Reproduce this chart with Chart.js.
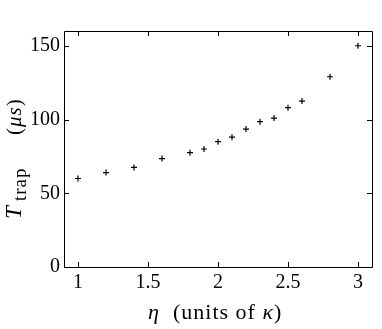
<!DOCTYPE html>
<html lang="en">
<head>
    <meta charset="UTF-8">
    <title>Trap time vs eta</title>
    <script src="https://cdn.jsdelivr.net/npm/chart.js"></script>
    <style>
        html, body { margin: 0; padding: 0; background: #fff; }
        #chart { display: block; }
    </style>
</head>
<body>
    <canvas id="chart" width="382" height="329"></canvas>

    <script>
        // Data
        var etaValues = [1.0, 1.2, 1.4, 1.6, 1.8, 1.9, 2.0, 2.1, 2.2, 2.3, 2.4, 2.5, 2.6, 2.8, 3.0];
        var trapTimes = [60, 64, 67.5, 73.5, 77.5, 80, 85, 88, 93.5, 98.5, 101, 108, 112.5, 129, 150];
        var xTicks = [1, 1.5, 2, 2.5, 3];
        var yTicks = [0, 50, 100, 150];

        var serif = '"Liberation Serif", "DejaVu Serif", serif';
        var points = etaValues.map((x, i) => ({x: x, y: trapTimes[i]}));

        // draws the box, inward ticks on all four sides and the axis titles
        var framePlugin = {
            id: 'frame',
            afterDraw(chart) {
                var ctx = chart.ctx;
                var a = chart.chartArea;
                var xs = chart.scales.x, ys = chart.scales.y;
                var len = 5;
                ctx.save();
                ctx.strokeStyle = '#000';
                ctx.lineWidth = 1;
                ctx.beginPath();
                ctx.rect(Math.round(a.left) + 0.5, Math.round(a.top) + 0.5,
                         Math.round(a.right - a.left), Math.round(a.bottom - a.top));
                xs.ticks.forEach(t => {
                    var px = Math.round(xs.getPixelForValue(t.value)) + 0.5;
                    ctx.moveTo(px, a.bottom); ctx.lineTo(px, a.bottom - len);
                    ctx.moveTo(px, a.top); ctx.lineTo(px, a.top + len);
                });
                ys.ticks.forEach(t => {
                    var py = Math.round(ys.getPixelForValue(t.value)) + 0.5;
                    ctx.moveTo(a.left, py); ctx.lineTo(a.left + len, py);
                    ctx.moveTo(a.right, py); ctx.lineTo(a.right - len, py);
                });
                ctx.stroke();

                ctx.fillStyle = '#000';
                ctx.textBaseline = 'alphabetic';
                ctx.textAlign = 'left';

                // x title: eta (units of kappa)
                ctx.letterSpacing = '1px';
                drawParts(ctx, [
                    {t: 'η', f: 'italic 22px ' + serif, at: 0},
                    {t: '(units of ', f: '22px ' + serif, at: 25},
                    {t: 'κ', f: 'italic 22px ' + serif},
                    {t: ')', f: '22px ' + serif}
                ], 148, 319);

                // y title: T_trap (mu s), rotated
                ctx.translate(21, 219);
                ctx.rotate(-Math.PI / 2);
                drawParts(ctx, [
                    {t: 'T', f: 'italic 23px ' + serif, at: 0},
                    {t: 'trap', f: '19px ' + serif, at: 18, dy: 5},
                    {t: '(', f: '21px ' + serif, at: 84},
                    {t: 'μs', f: 'italic 21px ' + serif},
                    {t: ')', f: '21px ' + serif}
                ], 0, 0);
                ctx.restore();
            }
        };

        // draw a run of text pieces; "at" pins a piece to an offset from x0
        function drawParts(ctx, parts, x0, y) {
            var x = x0;
            parts.forEach(p => {
                ctx.font = p.f;
                if (p.at !== undefined) x = x0 + p.at;
                ctx.fillText(p.t, x, y + (p.dy || 0));
                x += ctx.measureText(p.t).width;
            });
        }

        new Chart(document.getElementById('chart'), {
            type: 'scatter',
            data: {
                datasets: [{
                    data: points,
                    pointStyle: 'cross',
                    pointRadius: 3,
                    pointHoverRadius: 3,
                    borderWidth: 1.2,
                    borderColor: '#000',
                    backgroundColor: '#000'
                }]
            },
            options: {
                responsive: false,
                animation: false,
                layout: { padding: { top: 31, right: 10, left: 0, bottom: 0 } },
                plugins: {
                    legend: { display: false },
                    tooltip: { enabled: false }
                },
                scales: {
                    x: {
                        type: 'linear',
                        min: 0.9,
                        max: 3.1,
                        afterBuildTicks: s => { s.ticks = xTicks.map(v => ({value: v})); },
                        afterFit: s => { s.height = 62; },
                        grid: { display: false, drawTicks: false },
                        border: { display: false },
                        ticks: {
                            color: '#000',
                            padding: 4,
                            maxRotation: 0,
                            font: { family: serif, size: 20 },
                            callback: v => String(v)
                        }
                    },
                    y: {
                        min: 0,
                        max: 160,
                        afterBuildTicks: s => { s.ticks = yTicks.map(v => ({value: v})); },
                        afterFit: s => { s.width = 64; },
                        grid: { display: false, drawTicks: false },
                        border: { display: false },
                        ticks: {
                            color: '#000',
                            padding: 4,
                            font: { family: serif, size: 20 },
                            callback: v => String(v)
                        }
                    }
                }
            },
            plugins: [framePlugin]
        });
    </script>
</body>
</html>
